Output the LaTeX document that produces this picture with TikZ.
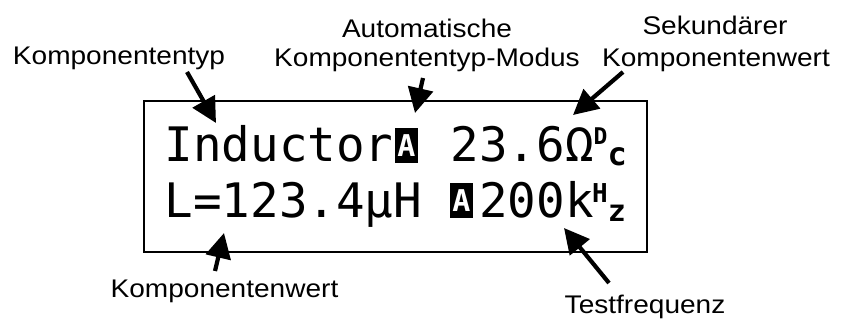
\documentclass[tikz,border=0pt]{standalone}
\usepackage{fontspec}
\setmainfont{Liberation Sans}[FakeStretch=1.1]
\newfontfamily\lcdfont{DejaVu Sans Mono}
\usetikzlibrary{arrows.meta}
\begin{document}
\begin{tikzpicture}[x=1pt,y=-1pt,
  lbl/.style={inner sep=0pt, anchor=base, font=\fontsize{25.5}{30}\selectfont},
  lcd/.style={inner sep=0pt, anchor=base west, font=\lcdfont\fontsize{47.5}{50}\selectfont},
  inv/.style={fill=black, text=white, inner sep=0pt, minimum width=23pt, minimum height=35pt, font=\lcdfont\bfseries\fontsize{30}{30}\selectfont},
  unit/.style={inner sep=0pt, anchor=base west, font=\lcdfont\bfseries},
  ptr/.style={line width=4.2pt, -{Triangle[length=25pt,width=25pt]}},
  lcdframe/.style={draw, line width=2.2pt}]
\useasboundingbox (0,0) rectangle (848,320);
% display frame
\node[lcdframe, inner sep=0pt, minimum width=503pt, minimum height=151pt, anchor=north west] (display) at (143,100) {};
% row 1
\node[lcd] (r1a) at (164.5,162) {Inductor};
\node[inv] (r1inv) at (406.5,145.5) {A};
\node[lcd] (r1b) at (450.5,162) {23.6Ω};
\node[unit] (r1u) at (593.5,166) {\fontsize{23}{23}\selectfont\raisebox{21pt}{D}\fontsize{32}{32}\selectfont c};
% row 2
\node[lcd] (r2a) at (164.5,218) {L=123.4µH};
\node[inv] (r2inv) at (461.5,201) {A};
\node[lcd] (r2b) at (479.1,218) {200k};
\node[unit] (r2u) at (592,222) {\fontsize{26}{26}\selectfont\raisebox{19pt}{H}\fontsize{30}{30}\selectfont z};
% labels
\node[lbl] (typ) at (119,65) {Komponententyp};
\node[lbl] (auto1) at (427,38) {Automatische};
\node[lbl] (auto2) at (427,67) {Komponententyp-Modus};
\node[lbl] (sek1) at (715,35) {Sekundärer};
\node[lbl] (sek2) at (716,67) {Komponentenwert};
\node[lbl] (wert) at (224.5,297) {Komponentenwert};
\node[lbl] (freq) at (645,313) {Testfrequenz};
% arrow ends
\coordinate (t1) at (187,72);   \coordinate (h1) at (216,123);
\coordinate (t2) at (423,78);   \coordinate (h2) at (415,113);
\coordinate (t3) at (623,72);   \coordinate (h3) at (573,115);
\coordinate (t4) at (215,271);  \coordinate (h4) at (224,233);
\coordinate (t5) at (609,283);  \coordinate (h5) at (564,228);
\draw[ptr] (t1) -- (h1);
\draw[ptr] (t2) -- (h2);
\draw[ptr] (t3) -- (h3);
\draw[ptr] (t4) -- (h4);
\draw[ptr] (t5) -- (h5);
\end{tikzpicture}
\end{document}
